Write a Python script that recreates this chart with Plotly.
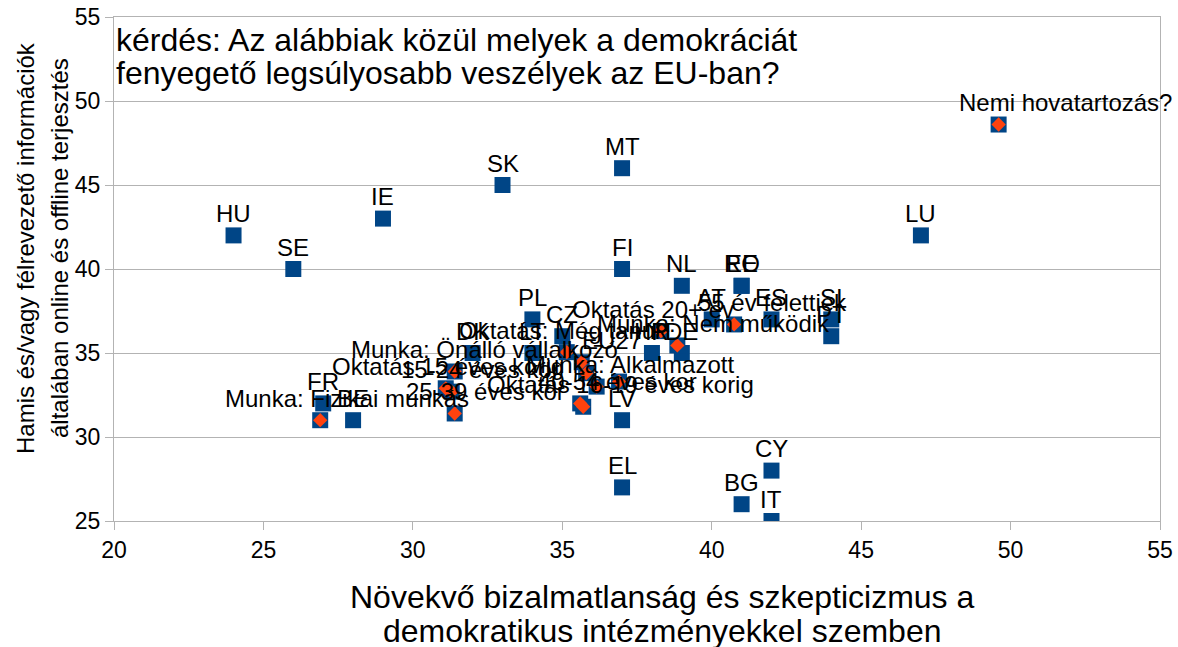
import plotly.graph_objects as go

# ---------------- data ----------------
country_codes = ["HU", "SE", "IE", "SK", "MT", "FI", "NL", "EE", "RO", "LU",
                 "AT", "ES", "SI", "PT", "PL", "CZ", "DK", "LT", "HR", "DE",
                 "FR", "BE", "LV", "EL", "CY", "BG", "IT"]
country_x = [24, 26, 29, 33, 37, 37, 39, 41, 41, 47,
             40, 42, 44, 44, 34, 35, 32, 34, 38, 39,
             27, 28, 37, 37, 42, 41, 42]
country_y = [42, 40, 43, 45, 46, 40, 39, 39, 39, 42,
             37, 37, 37, 36, 37, 36, 35, 35, 35, 35,
             32, 31, 31, 27, 28, 26, 25]

group_labels = ["Nemi hovatartozás?", "Munka: Fizikai munkás", "Munka: Önálló vállalkozó",
                "Oktatás 15 éves korig", "15-24 éves kor", "25-39 éves kor",
                "Oktatás: Még tanul", "EU27", "", "Munka: Alkalmazott",
                "40-54 éves kor", "Oktatás 16-19 éves korig", "",
                "Oktatás 20+ év", "Munka: Nem működik", "55 év felettiek"]
group_x = [49.6, 26.9, 31.4, 31.1, 31.3, 31.4, 35.15, 35.65, 35.8, 36.15,
           35.6, 35.7, 36.9, 38.3, 38.85, 40.75]
group_y = [48.6, 31.0, 33.9, 32.9, 32.7, 31.4, 35.05, 34.45, 33.8, 33.0,
           32.0, 31.8, 33.3, 36.3, 35.45, 36.7]

x_ticks = [20, 25, 30, 35, 40, 45, 50, 55]
y_ticks = [25, 30, 35, 40, 45, 50, 55]

title_lines = ["kérdés: Az alábbiak közül melyek a demokráciát",
               "fenyegető legsúlyosabb veszélyek az EU-ban?"]
x_title_lines = ["Növekvő bizalmatlanság és szkepticizmus a",
                 "demokratikus intézményekkel szemben"]
y_title_lines = ["Hamis és/vagy félrevezető információk",
                 "általában online és offline terjesztés"]

# ---------------- style ----------------
FONT = "Liberation Sans, Arial, sans-serif"
BLUE = "#004586"
ORANGE = "#ff420e"
GRID = "#b3b3b3"
LABEL_SIZE = 24
LABEL_YSHIFT = 22
# horizontal label shifts (pixels) for the group labels
LABEL_XSHIFT = {
    "Nemi hovatartozás?": 67, "Munka: Fizikai munkás": 27, "Munka: Önálló vállalkozó": 30,
    "Oktatás 15 éves korig": 2, "15-24 éves kor": 29, "25-39 éves kor": 31,
    "Oktatás: Még tanul": -7, "EU27": 30, "Munka: Alkalmazott": 33,
    "40-54 éves kor": 37, "Oktatás 16-19 éves korig": 37, "Oktatás 20+ év": -8,
    "Munka: Nem működik": 36, "55 év felettiek": 38,
}

fig = go.Figure()
fig.add_trace(go.Scatter(x=country_x, y=country_y, mode="markers", name="Országok",
                         marker=dict(symbol="square", size=16, color=BLUE, line=dict(width=0)),
                         hoverinfo="text", text=country_codes))
fig.add_trace(go.Scatter(x=group_x, y=group_y, mode="markers", name="Csoportok",
                         marker=dict(symbol="square", size=16, color=BLUE, line=dict(width=0)),
                         hoverinfo="skip"))
fig.add_trace(go.Scatter(x=group_x, y=group_y, mode="markers", name="Csoportok",
                         marker=dict(symbol="diamond", size=11, color=ORANGE, line=dict(width=0)),
                         hoverinfo="text", text=group_labels))

annotations = []
for code, x, y in zip(country_codes, country_x, country_y):
    annotations.append(dict(x=x, y=y, xref="x", yref="y", text=code, showarrow=False,
                            xanchor="center", yanchor="middle", yshift=LABEL_YSHIFT,
                            font=dict(family=FONT, size=LABEL_SIZE, color="black")))
for lab, x, y in zip(group_labels, group_x, group_y):
    if not lab:
        continue
    annotations.append(dict(x=x, y=y, xref="x", yref="y", text=lab, showarrow=False,
                            xanchor="center", yanchor="middle", yshift=LABEL_YSHIFT,
                            xshift=LABEL_XSHIFT.get(lab, 0),
                            font=dict(family=FONT, size=LABEL_SIZE, color="black")))

# chart title inside plot area
for i, line in enumerate(title_lines):
    annotations.append(dict(x=0, y=[0.954, 0.889][i], xref="paper", yref="paper", text=line,
                            showarrow=False, xanchor="left", yanchor="middle",
                            font=dict(family=FONT, size=32, color="black")))
# x axis title
for i, line in enumerate(x_title_lines):
    annotations.append(dict(x=0.524, y=[-0.151, -0.218][i], xref="paper", yref="paper", text=line,
                            showarrow=False, xanchor="center", yanchor="middle",
                            font=dict(family=FONT, size=32, color="black")))
# y axis title
for i, line in enumerate(y_title_lines):
    annotations.append(dict(x=[-0.0841, -0.0516][i], y=0.5417, xref="paper", yref="paper", text=line,
                            showarrow=False, xanchor="center", yanchor="middle", textangle=-90,
                            font=dict(family=FONT, size=24, color="black")))

axis_common = dict(showline=True, linecolor=GRID, linewidth=1, mirror=True,
                   ticks="outside", ticklen=8, tickcolor=GRID, tickwidth=1,
                   tickfont=dict(family=FONT, size=23, color="black"), zeroline=False,
                   automargin=False)

fig.update_layout(
    width=1178, height=647, autosize=False,
    margin=dict(l=114, r=18, t=17, b=126, autoexpand=False),
    paper_bgcolor="white", plot_bgcolor="white",
    showlegend=False,
    xaxis=dict(range=[20, 55], tickvals=x_ticks, showgrid=False, **axis_common),
    yaxis=dict(range=[25, 55], tickvals=y_ticks, showgrid=True, gridcolor=GRID, gridwidth=1,
               **axis_common),
    annotations=annotations,
    font=dict(family=FONT, color="black"),
)

fig.write_html("out.html", config={"displayModeBar": False},
               post_script="document.body.style.margin='0';document.body.style.overflow='hidden';")
